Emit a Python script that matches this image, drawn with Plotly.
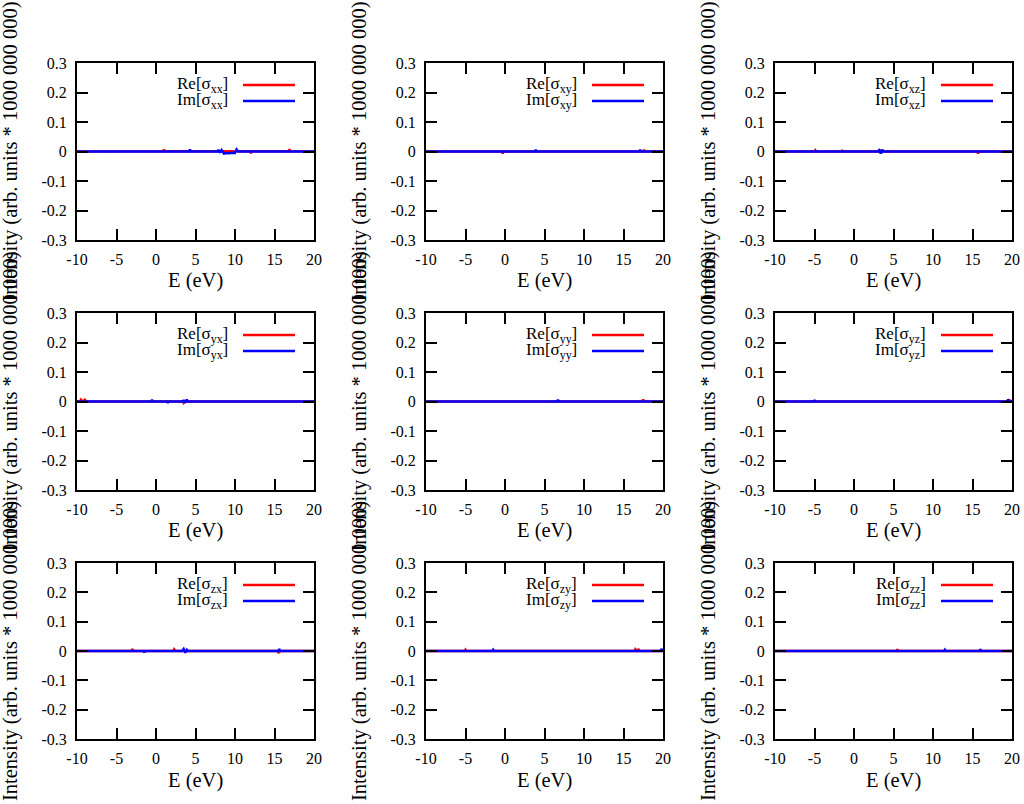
import plotly.graph_objects as go
from plotly.subplots import make_subplots

# ---------------- data ----------------
COMPONENTS = ["xx", "xy", "xz", "yx", "yy", "yz", "zx", "zy", "zz"]

X_TICKS = [-10, -5, 0, 5, 10, 15, 20]
X_TICK_LABELS = ["-10", "-5", "0", "5", "10", "15", "20"]
Y_TICKS = [-0.3, -0.2, -0.1, 0, 0.1, 0.2, 0.3]
Y_TICK_LABELS = ["-0.3", "-0.2", "-0.1", "0", "0.1", "0.2", "0.3"]

E_XX = [-10, -3, 0.9, 1.0, 1.1, 4.2, 4.3, 4.4, 7.8, 7.9, 8.1, 8.3, 8.6, 8.9, 9.2, 9.6, 10.0, 10.2, 10.4, 11.9, 12.0, 12.1, 16.8, 16.9, 17.0, 20]
RE_XX = [0, 0.001, 0.001, 0.007, 0.001, 0.001, 0.001, 0.001, 0.001, 0.001, 0.001, 0.001, 0.001, 0.001, 0.001, 0.001, 0.001, 0.001, 0.001, 0.001, -0.006, 0.001, 0.001, 0.008, 0.001, 0]
IM_XX = [0, 0, 0, 0, 0, 0, 0.007, 0, 0, 0.006, -0.004, 0.005, -0.007, -0.005, -0.006, -0.004, -0.005, 0.007, 0, 0, 0, 0, 0, 0, 0, 0]

E_XY = [-10, -0.4, -0.3, -0.2, 3.8, 3.9, 4.0, 17.0, 17.1, 17.2, 17.5, 17.6, 17.7, 20]
RE_XY = [0, 0, -0.007, 0, 0, 0, 0, 0, 0, 0, 0, 0.006, 0, 0]
IM_XY = [0, 0, 0, 0, 0, 0.006, 0, 0, 0.006, 0, 0, 0, 0, 0]

E_XZ = [-10, -5.0, -4.9, -4.8, -1.6, -1.5, -1.4, 3.1, 3.2, 3.4, 3.6, 3.7, 15.6, 15.7, 15.8, 20]
RE_XZ = [0, 0, 0.004, 0, 0, 0.005, 0, 0, 0.004, -0.006, 0.005, 0, 0, -0.007, 0, 0]
IM_XZ = [0, 0, 0, 0, 0, 0, 0, 0, 0.007, -0.007, 0.006, 0, 0, 0, 0, 0]

E_YX = [-10, -9.6, -9.5, -9.3, -9.0, -8.8, -0.6, -0.5, -0.4, 1.4, 1.5, 1.6, 3.4, 3.5, 3.7, 3.9, 4.0, 20]
RE_YX = [0, 0, 0.006, 0, 0.006, 0, 0, 0, 0, 0, 0, 0, 0, -0.005, 0, 0, 0, 0]
IM_YX = [0, 0, 0, 0, 0, 0, 0, 0.006, 0, 0, -0.005, 0, 0, 0.005, -0.004, 0.007, 0, 0]

E_YY = [-10, 6.6, 6.7, 6.8, 17.4, 17.5, 17.6, 20]
RE_YY = [0, 0, 0, 0, 0, 0.007, 0, 0]
IM_YY = [0, 0, 0.006, 0, 0, 0, 0, 0]

E_YZ = [-10, -5.1, -5.0, -4.9, 19.4, 19.5, 19.6, 20]
RE_YZ = [0, 0, 0, 0, 0, 0, 0.005, 0]
IM_YZ = [0, 0, 0.005, 0, 0, 0.007, 0, 0]

E_ZX = [-10, -3.1, -3.0, -2.9, -1.6, -1.5, -1.4, 2.2, 2.3, 2.5, 3.3, 3.5, 3.7, 3.9, 4.0, 15.4, 15.5, 15.6, 15.7, 20]
RE_ZX = [0, 0, 0.007, 0, 0, 0, 0, 0, 0.006, 0, 0, 0, 0, 0, 0, 0, -0.007, 0, 0, 0]
IM_ZX = [0, 0, 0, 0, 0, -0.005, 0, 0, 0, 0, 0, 0.007, -0.006, 0.004, 0, 0, 0, 0.007, 0, 0]

E_ZY = [-10, -5.1, -5.0, -4.9, -1.6, -1.5, -1.4, 16.4, 16.5, 16.7, 16.9, 17.0, 19.7, 19.8, 19.9, 20]
RE_ZY = [0, 0, 0.004, 0, 0, 0, 0, 0, 0.006, 0, 0.007, 0, 0, 0, 0, 0]
IM_ZY = [0, 0, 0, 0, 0, 0.004, 0, 0, 0, 0, 0, 0, 0, 0.007, 0, 0]

E_ZZ = [-10, 5.4, 5.5, 5.6, 11.4, 11.5, 11.6, 15.9, 16.0, 16.1, 20]
RE_ZZ = [0, 0, 0.006, 0, 0, 0, 0, 0, 0, 0, 0]
IM_ZZ = [0, 0, 0, 0, 0, 0.004, 0, 0, 0.006, 0, 0]

SERIES = [
    (E_XX, RE_XX, IM_XX), (E_XY, RE_XY, IM_XY), (E_XZ, RE_XZ, IM_XZ),
    (E_YX, RE_YX, IM_YX), (E_YY, RE_YY, IM_YY), (E_YZ, RE_YZ, IM_YZ),
    (E_ZX, RE_ZX, IM_ZX), (E_ZY, RE_ZY, IM_ZY), (E_ZZ, RE_ZZ, IM_ZZ),
]

X_LABEL = "E (eV)"
Y_LABEL = "Intensity (arb. units * 1000 000 000)"

# ---------------- layout ----------------
W, H = 1024, 804
COL_PX = [(77, 314), (426, 663), (775, 1012)]
ROW_PX = [(63, 240), (313, 490), (563, 739)]
FONT = "Liberation Serif, Times New Roman, serif"
RED = "#ff0000"
BLUE = "#0000ff"

fig = make_subplots(rows=3, cols=3)

for i, comp in enumerate(COMPONENTS):
    r, c = divmod(i, 3)
    e, re_v, im_v = SERIES[i]
    fig.add_trace(go.Scatter(x=e, y=re_v, mode="lines", line=dict(color=RED, width=2.5),
                             name=f"Re[σ{comp}]", showlegend=False), row=r + 1, col=c + 1)
    fig.add_trace(go.Scatter(x=e, y=im_v, mode="lines", line=dict(color=BLUE, width=2.5),
                             name=f"Im[σ{comp}]", showlegend=False), row=r + 1, col=c + 1)

    idx = i + 1
    xa = "xaxis" if idx == 1 else f"xaxis{idx}"
    ya = "yaxis" if idx == 1 else f"yaxis{idx}"
    x0, x1 = COL_PX[c]
    y0, y1 = ROW_PX[r]
    common = dict(showgrid=False, zeroline=False, showline=True, linecolor="black", linewidth=2,
                  mirror="allticks", ticks="inside", ticklen=11, tickwidth=2, tickcolor="black",
                  automargin=False,
                  tickfont=dict(family=FONT, size=16, color="black"))
    fig.layout[xa].update(domain=[x0 / W, x1 / W], range=[-10, 20], tickmode="array",
                          tickvals=X_TICKS, ticktext=X_TICK_LABELS, ticklabelstandoff=4, **common)
    fig.layout[ya].update(domain=[1 - y1 / H, 1 - y0 / H], range=[-0.3, 0.3], tickmode="array",
                          tickvals=Y_TICKS, ticktext=Y_TICK_LABELS, ticklabelstandoff=5, **common)

    xd = ("x" if idx == 1 else f"x{idx}") + " domain"
    yd = ("y" if idx == 1 else f"y{idx}") + " domain"
    pw = x1 - x0
    ph = y1 - y0
    # axis titles
    fig.add_annotation(xref=xd, yref=yd, x=0.5, y=-41 / ph, text=X_LABEL, showarrow=False,
                       xanchor="center", yanchor="middle",
                       font=dict(family=FONT, size=20.5, color="black"))
    fig.add_annotation(xref=xd, yref=yd, x=-67 / pw, y=0.5, text=Y_LABEL, showarrow=False,
                       textangle=-90, xanchor="center", yanchor="middle",
                       font=dict(family=FONT, size=20.5, color="black"))
    # key
    for k, (lab, col, py) in enumerate([("Re", RED, 85 - 63), ("Im", BLUE, 101 - 63)]):
        yf = 1 - py / ph
        fig.add_annotation(xref=xd, yref=yd, x=153 / pw, y=yf,
                           text=f"{lab}[σ<sub>{comp}</sub>]", showarrow=False,
                           xanchor="right", yanchor="middle",
                           font=dict(family=FONT, size=17, color="black"))
        fig.add_shape(type="line", xref=xd, yref=yd, x0=166 / pw, x1=218 / pw, y0=yf, y1=yf,
                      line=dict(color=col, width=2.5))

fig.update_layout(width=W, height=H, margin=dict(l=0, r=0, t=0, b=0, autoexpand=False),
                  paper_bgcolor="white", plot_bgcolor="white", showlegend=False,
                  font=dict(family=FONT, color="black"))

fig.write_html("out.html", config={"displayModeBar": False},
               post_script="document.body.style.margin='0px';document.body.style.overflow='hidden';")
